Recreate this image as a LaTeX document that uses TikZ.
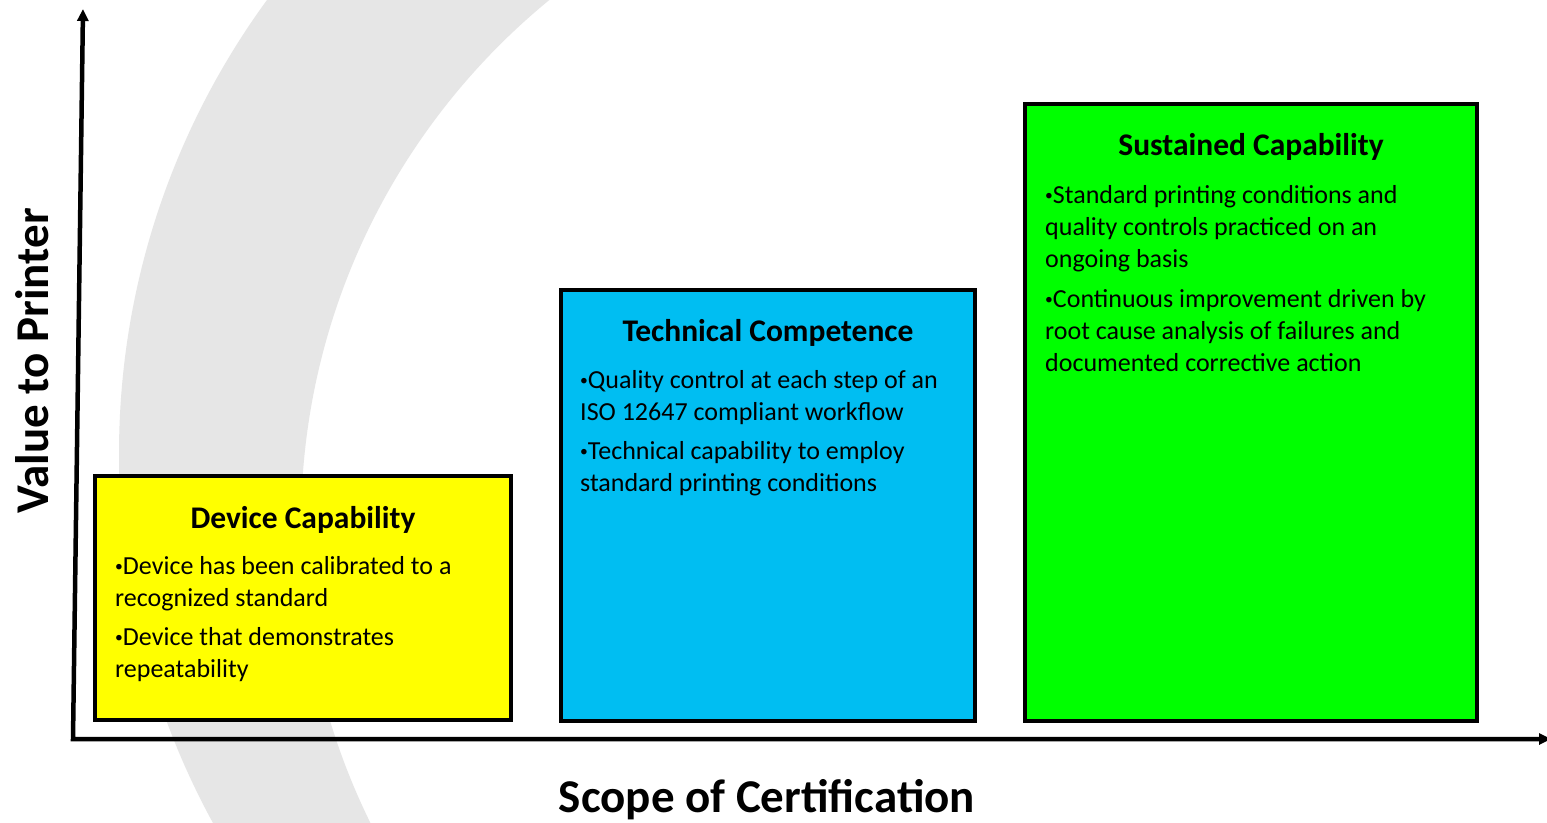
\documentclass[tikz,border=0pt]{standalone}
\usepackage{fontspec}
\usepackage{graphicx}
\setmainfont{Carlito}
\usetikzlibrary{arrows.meta}
\definecolor{ybox}{HTML}{FFFF00}
\definecolor{bbox}{HTML}{00BEF2}
\definecolor{gbox}{HTML}{00FF00}
\definecolor{arcgray}{HTML}{E6E6E6}
\newcommand\smallbul{\raisebox{3pt}{\scalebox{0.6}{•}}}
\begin{document}
\begin{tikzpicture}[x=1pt,y=-1pt,
  capbox/.style={draw=black, line width=4pt, inner sep=0pt},
  titletext/.style={font=\fontsize{31.5}{38}\selectfont\bfseries, inner sep=0pt},
  bodytext/.style={font=\fontsize{26}{32}\selectfont, align=left, inner sep=0pt},
  axislabel/.style={font=\fontsize{47}{56}\selectfont\bfseries, inner sep=0pt},
  axisline/.style={line width=4.5pt, line join=miter, {Triangle[length=12pt,width=11pt]}-{Triangle[length=12pt,width=11pt]}}]
\useasboundingbox (0,0) rectangle (1547,822);
\fill[white] (0,0) rectangle (1547,822);
% gray arc in background
\begin{scope}
  \clip (0,0) rectangle (700,822);
  \fill[arcgray, even odd rule] (889,454) circle[radius=770pt] (978,524) circle[radius=677pt];
\end{scope}
% axes
\coordinate (ytip) at (83,9);
\coordinate (origin) at (73,739);
\coordinate (xtip) at (1551,739);
\draw[axisline] (ytip) -- (origin) -- (xtip);
% boxes
\node[capbox, fill=ybox, minimum width=416pt, minimum height=244pt] (dev) at (303,598) {};
\node[capbox, fill=bbox, minimum width=414pt, minimum height=431pt] (tech) at (768,505.5) {};
\node[capbox, fill=gbox, minimum width=452pt, minimum height=617pt] (sus) at (1251,412.5) {};
% titles
\node[titletext, anchor=base] (devT) at (303,528) {Device Capability};
\node[titletext, anchor=base] (techT) at (768,341) {Technical Competence};
\node[titletext, anchor=base] (susT) at (1251,155) {Sustained Capability};
% bodies
\node[bodytext, anchor=north west] (devB) at (115,551.6) {\strut\smallbul Device has been calibrated to a\\recognized standard\\[7pt]\smallbul Device that demonstrates\\repeatability};
\node[bodytext, anchor=north west] (techB) at (580,365.6) {\strut\smallbul Quality control at each step of an\\ISO 12647 compliant workflow\\[7pt]\smallbul Technical capability to employ\\standard printing conditions};
\node[bodytext, anchor=north west] (susB) at (1045,180.6) {\strut\smallbul Standard printing conditions and\\quality controls practiced on an\\ongoing basis\\[8pt]\smallbul Continuous improvement driven by\\root cause analysis of failures and\\documented corrective action};
% axis labels
\node[axislabel, anchor=base] (xlab) at (767,812) {Scope of Certification};
\node[axislabel, anchor=base, rotate=90] (ylab) at (48,361) {Value to Printer};
\end{tikzpicture}
\end{document}
